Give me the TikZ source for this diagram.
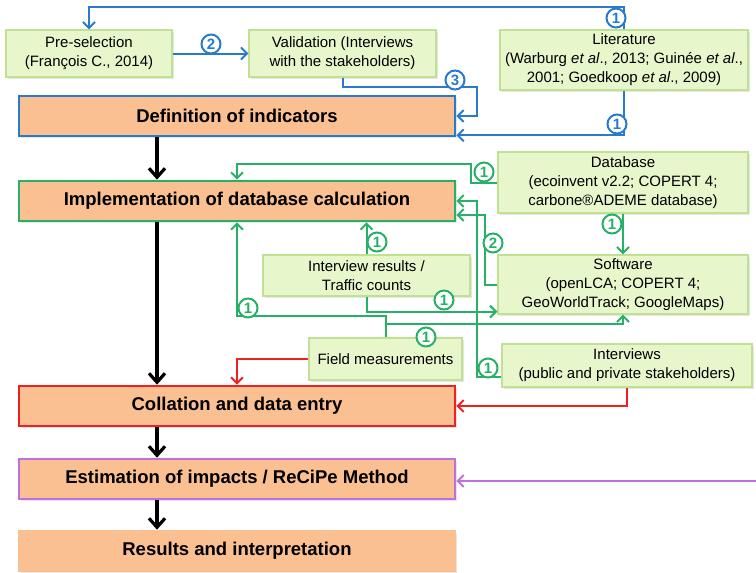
\documentclass[tikz,border=0pt]{standalone}
\usepackage{fontspec}
\setmainfont{Liberation Sans}
\usetikzlibrary{arrows.meta,shadows}

\definecolor{srcfill}{RGB}{232,246,204}
\definecolor{srcborder}{RGB}{192,224,146}
\definecolor{stagefill}{RGB}{251,192,146}
\definecolor{blueline}{RGB}{40,122,204}
\definecolor{greenline}{RGB}{40,176,102}
\definecolor{redline}{RGB}{238,32,32}
\definecolor{purpline}{RGB}{192,112,222}

\tikzset{
  src/.style={draw=srcborder, fill=srcfill, line width=1.2pt, align=center, inner sep=3pt,
    font=\fontsize{15}{19}\selectfont,
    drop shadow={opacity=0.2, shadow xshift=2pt, shadow yshift=-2pt}},
  stage/.style={draw=#1, fill=stagefill, line width=2.6pt, minimum width=436pt, minimum height=40pt,
    font=\bfseries\fontsize{18.5}{20}\selectfont,
    drop shadow={opacity=0.2, shadow xshift=2pt, shadow yshift=-2pt}},
  num/.style={circle, draw=#1, text=#1, fill=white, line width=2pt, inner sep=0pt,
    minimum size=19pt, font=\bfseries\fontsize{15}{15}\selectfont},
  link/.style={draw=#1, line width=2pt, -{Straight Barb[length=6pt,width=12pt]}},
  mainflow/.style={line width=3.2pt, -{Straight Barb[length=9pt,width=16pt]}}
}

\begin{document}
\begin{tikzpicture}[x=1pt, y=-1pt]
  \useasboundingbox (0,0) rectangle (756,573);

  % Sources
  \node[src, minimum width=166pt, minimum height=47pt] (pre) at (89,53.5)
    {Pre-selection\\(François C., 2014)};
  \node[src, minimum width=187pt, minimum height=47pt] (val) at (342.5,53.5)
    {Validation (Interviews\\with the stakeholders)};
  \node[src, minimum width=248pt, minimum height=60pt] (lit) at (624,60)
    {Literature\\(Warburg \textit{et al}., 2013; Guinée \textit{et al}.,\\2001; Goedkoop \textit{et al}., 2009)};
  \node[src, minimum width=250pt, minimum height=61pt] (db) at (623,182.5)
    {Database\\(ecoinvent v2.2; COPERT 4;\\carbone®ADEME database)};
  \node[src, minimum width=207pt, minimum height=41pt] (irt) at (366.5,275.5)
    {Interview results /\\Traffic counts};
  \node[src, minimum width=250pt, minimum height=59pt] (sw) at (623,284.5)
    {Software\\(openLCA; COPERT 4;\\GeoWorldTrack; GoogleMaps)};
  \node[src, minimum width=153pt, minimum height=42pt] (fm) at (385.5,359)
    {Field measurements};
  \node[src, minimum width=250pt, minimum height=43pt] (itv) at (627,365.5)
    {Interviews\\(public and private stakeholders)};

  % Stages
  \node[stage=blueline] (def) at (237,116) {Definition of indicators};
  \node[stage=greenline] (impl) at (237,201) {Implementation of database calculation};
  \node[stage=redline] (col) at (237,406) {Collation and data entry};
  \node[stage=purpline] (est) at (237,479) {Estimation of impacts / ReCiPe Method};
  \node[stage=stagefill] (res) at (237,551) {Results and interpretation};

  % Main flow
  \foreach \a/\b in {def/impl, impl/col, col/est, est/res} {
    \draw[mainflow] ([xshift=-80pt]\a.south) -- ([xshift=-80pt]\b.north);
  }

  % Blue links
  \draw[link=blueline] (lit.north) -- ++(0,-22) -| (pre.north);
  \draw[link=blueline] (pre) -- (val);
  \draw[link=blueline] (val.south) -- ++(0,9) -| ([xshift=21pt]def.east) -- (def.east);
  \draw[link=blueline] (lit.south) |- ([yshift=2pt]def.south east);
  \node[num=blueline] (b1) at (616,18) {1};
  \node[num=blueline] (b2) at (211,44) {2};
  \node[num=blueline] (b3) at (455,80) {3};
  \node[num=blueline] (b4) at (617,124) {1};

  % Green links
  \draw[link=greenline] (db.west) -- ++(-26,0) -- ++(0,-19) -| (impl.north);
  \draw[link=greenline] (db.south) -- (sw.north);
  \draw[link=greenline] (sw.west) -- ++(-12,0) |- ([yshift=-14pt]impl.east);
  \draw[link=greenline] ([yshift=-11pt]itv.west) -- ++(-24,0) |- (impl.east);
  \draw[link=greenline] (irt.north) -- (irt.north |- impl.south);
  \draw[link=greenline] (irt.south) |- ([yshift=3pt]sw.south west);
  \draw[link=greenline] (fm.north) -- ++(0,-21) -| (impl.south);
  \draw[link=greenline] ([yshift=13pt]fm.north) -| (sw.south);
  \node[num=greenline] (g1) at (484,172) {1};
  \node[num=greenline] (g2) at (612,224) {1};
  \node[num=greenline] (g3) at (493,243) {2};
  \node[num=greenline] (g4) at (488,368) {1};
  \node[num=greenline] (g5) at (377,242) {1};
  \node[num=greenline] (g6) at (444,300) {1};
  \node[num=greenline] (g7) at (248,308) {1};
  \node[num=greenline] (g8) at (426,337) {1};

  % Red links
  \draw[link=redline] (fm.west) -| (col.north);
  \draw[link=redline] (itv.south) |- (col.east);

  % Purple link
  \coordinate (rim) at (756,481);
  \draw[link=purpline] (rim) -- (est.east |- rim);
\end{tikzpicture}
\end{document}
